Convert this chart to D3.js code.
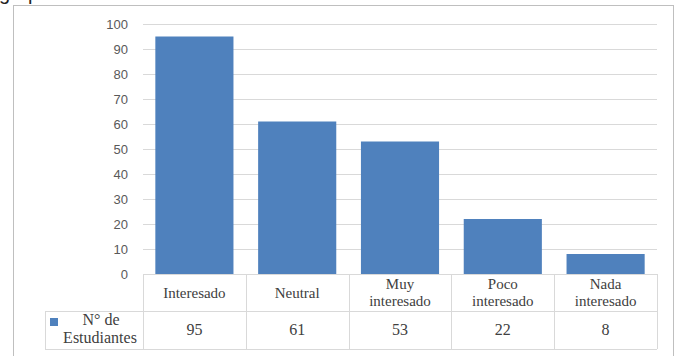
<!DOCTYPE html>
<html>
<head>
<meta charset="utf-8">
<script src="https://cdn.jsdelivr.net/npm/d3@7"></script>
<style>
  html, body { margin: 0; padding: 0; background: #fff; }
  svg { display: block; }
</style>
</head>
<body>
<div id="chart"></div>
<script>
// Survey: level of interest among students
const categories = ["Interesado", "Neutral", "Muy interesado", "Poco interesado", "Nada interesado"];
const categoryLines = [["Interesado"], ["Neutral"], ["Muy", "interesado"], ["Poco", "interesado"], ["Nada", "interesado"]];
const values = [95, 61, 53, 22, 8];
const seriesName = ["N° de", "Estudiantes"];
const yTicks = [0, 10, 20, 30, 40, 50, 60, 70, 80, 90, 100];

const W = 678, H = 356;
const plot = { left: 143, right: 657, top: 24, bottom: 274 };
const tableRow1 = 311, tableBottom = 349, legendLeft = 45;
const SERIF = '"Liberation Serif"';
const SANS = '"Liberation Sans"';
const TABLE_FONT = "16px";

const svg = d3.select("#chart").append("svg")
  .attr("width", W).attr("height", H);

// caption text running off the top edge
svg.append("text").style("font-family", SANS)
  .attr("x", -1).attr("y", 0)
  .attr("font-size", 20).attr("fill", "#222")
  .text("grupo");

// chart frame
svg.append("rect")
  .attr("x", 13.5).attr("y", 5.5)
  .attr("width", 660).attr("height", 360)
  .attr("fill", "none").attr("stroke", "#BFBFBF").attr("stroke-width", 1);

const x = d3.scaleBand().domain(categories).range([plot.left, plot.right]).paddingInner(0.24).paddingOuter(0.12);
const xCell = d3.scaleBand().domain(categories).range([plot.left, plot.right]);
const y = d3.scaleLinear().domain([0, 100]).range([plot.bottom, plot.top]);

// gridlines
svg.append("g").selectAll("line").data(yTicks.filter(d => d > 0)).join("line")
  .attr("x1", plot.left).attr("x2", plot.right)
  .attr("y1", d => Math.round(y(d)) + 0.5).attr("y2", d => Math.round(y(d)) + 0.5)
  .attr("stroke", "#D9D9D9").attr("stroke-width", 1);

// y axis labels
const yAxis = d3.axisLeft(y).tickValues(yTicks).tickSize(0).tickPadding(15);
const gy = svg.append("g").attr("transform", `translate(${plot.left},0)`).call(yAxis);
gy.select(".domain").remove();
gy.selectAll("text").style("font-family", SANS)
  .style("font-size", "13px").attr("fill", "#595959");

// bars
svg.append("g").selectAll("rect").data(values).join("rect")
  .attr("x", (d, i) => x(categories[i]))
  .attr("width", x.bandwidth())
  .attr("y", d => y(d))
  .attr("height", d => y(0) - y(d))
  .attr("fill", "#4F81BD");

// data table
const tg = svg.append("g").attr("stroke", "#D9D9D9").attr("stroke-width", 1).attr("fill", "none");
const hl = (x1, x2, yy) => tg.append("line").attr("x1", x1).attr("x2", x2).attr("y1", yy + 0.5).attr("y2", yy + 0.5);
const vl = (xx, y1, y2) => tg.append("line").attr("x1", xx + 0.5).attr("x2", xx + 0.5).attr("y1", y1).attr("y2", y2);
hl(plot.left, plot.right, plot.bottom);
hl(legendLeft, plot.right, tableRow1);
hl(legendLeft, plot.right, tableBottom);
vl(legendLeft, tableRow1, tableBottom);
categories.forEach(c => vl(Math.round(xCell(c)), plot.bottom, tableBottom));
vl(plot.right, plot.bottom, tableBottom);

// category labels, one text element per line
categoryLines.forEach((lines, i) => {
  const cx = xCell(categories[i]) + xCell.bandwidth() / 2;
  const midY = (plot.bottom + tableRow1) / 2;
  const lh = 17.5;
  lines.forEach((ln, k) => {
    svg.append("text").style("font-family", SERIF)
      .style("font-size", "15px").attr("fill", "#404040")
      .attr("text-anchor", "middle")
      .attr("x", cx)
      .attr("y", midY + (k - (lines.length - 1) / 2) * lh + 5)
      .text(ln);
  });
});

// values row
values.forEach((v, i) => {
  svg.append("text").style("font-family", SERIF)
    .attr("x", xCell(categories[i]) + xCell.bandwidth() / 2)
    .attr("y", (tableRow1 + tableBottom) / 2 + 5)
    .style("font-size", TABLE_FONT).attr("fill", "#404040")
    .attr("text-anchor", "middle").text(v);
});

// series legend cell
svg.append("rect").attr("x", 50).attr("y", 318).attr("width", 8).attr("height", 8).attr("fill", "#4F81BD");
svg.append("text").style("font-family", SERIF).style("font-size", TABLE_FONT).attr("fill", "#404040")
  .attr("text-anchor", "middle").attr("x", 101).attr("y", 325).text(seriesName[0]);
svg.append("text").style("font-family", SERIF).style("font-size", TABLE_FONT).attr("fill", "#404040")
  .attr("text-anchor", "middle").attr("x", 100).attr("y", 343).text(seriesName[1]);
</script>
</body>
</html>
